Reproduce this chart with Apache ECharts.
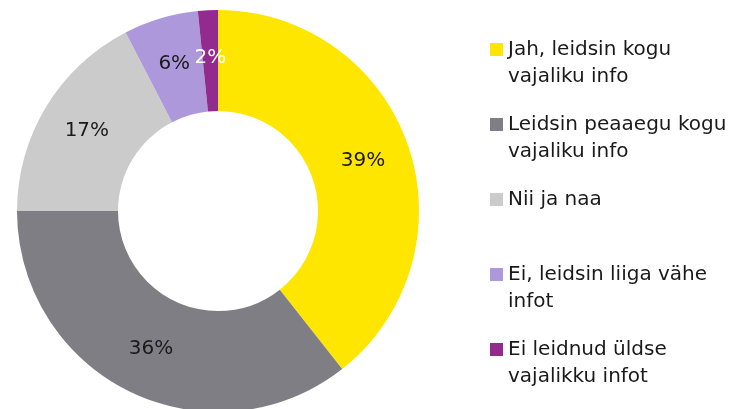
<!DOCTYPE html>
<html>
<head>
<meta charset="utf-8">
<script src="https://cdn.jsdelivr.net/npm/echarts@6/dist/echarts.min.js"></script>
<style>
  html, body { margin: 0; padding: 0; background: #fff; }
  #chart { width: 747px; height: 409px; }
</style>
</head>
<body>
<div id="chart"></div>
<script>
// andmed
const names = [
  "Jah, leidsin kogu\nvajaliku info",
  "Leidsin peaaegu kogu\nvajaliku info",
  "Nii ja naa",
  "Ei, leidsin liiga vähe\ninfot",
  "Ei leidnud üldse\nvajalikku infot"
];
const values = [39.4, 35.6, 17.4, 6.0, 1.6];
const colors = ["#ffe600", "#7f7e84", "#cbcbcc", "#ac98db", "#922b8d"];
const labelColors = ["#1a1a1a", "#1a1a1a", "#1a1a1a", "#1a1a1a", "#ffffff"];

const legendIconTops = [43, 118, 193, 268, 343];
const font = "DejaVu Sans";
const lineH = 27;

const chart = echarts.init(document.getElementById("chart"));

// one legend per item; for two-line names the icon box is taller and the
// square is drawn at its top so it lines up with the first text line
const legends = names.map((n, i) => {
  const twoLines = n.indexOf("\n") >= 0;
  const boxH = twoLines ? lineH + 13 : 13;
  return {
    orient: "vertical",
    left: 490,
    top: legendIconTops[i] - (lineH - 13) / 2,
    padding: 0,
    itemWidth: 13,
    itemHeight: boxH,
    icon: twoLines ? "path://M0,0h13v13h-13zM0," + boxH : "rect",
    selectedMode: false,
    data: [n],
    textStyle: {
      fontFamily: font,
      fontSize: 20,
      lineHeight: lineH,
      color: "#1a1a1a"
    }
  };
});

chart.setOption({
  animation: false,
  color: colors,
  legend: legends,
  series: [
    {
      type: "pie",
      center: [218, 211],
      radius: [100, 201],
      startAngle: 90,
      clockwise: true,
      label: {
        position: "inside",
        fontFamily: font,
        fontSize: 20,
        formatter: (p) => Math.round(p.value) + "%"
      },
      labelLine: { show: false },
      emphasis: { disabled: true },
      data: names.map((n, i) => ({
        name: n,
        value: values[i],
        label: { color: labelColors[i] }
      }))
    }
  ]
});
</script>
</body>
</html>
